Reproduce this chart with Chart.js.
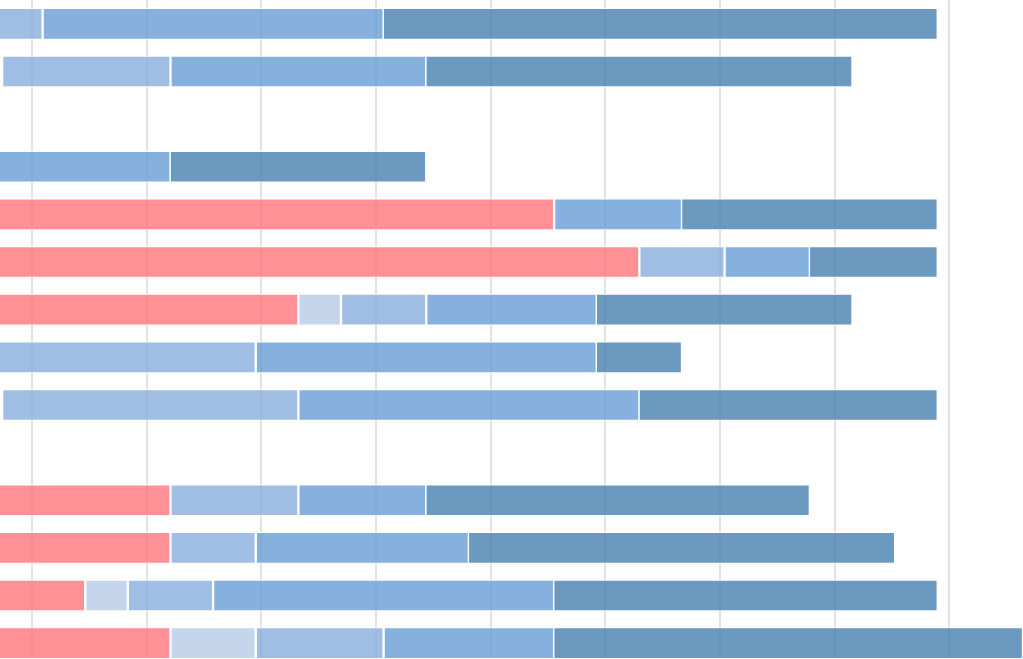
<!DOCTYPE html>
<html>
<head>
<meta charset="utf-8">
<script src="https://cdn.jsdelivr.net/npm/chart.js@4/dist/chart.umd.min.js"></script>
<style>
  html, body { margin: 0; padding: 0; background: #ffffff; overflow: hidden; }
  #wrap { width: 1023px; height: 659px; overflow: hidden; position: relative; }
  canvas { display: block; }
</style>
</head>
<body>
<div id="wrap"><canvas id="c" width="1023" height="667"></canvas></div>
<script>
// Row categories (top to bottom)
const categories = ["R1","R2","R3","R4","R5","R6","R7","R8","R9","R10","R11","R12","R13","R14"];

// Floating segments [start, end] per series (null = no segment)
const redSeg = [null, null, null, null, [-1,13], [-1,15], [-1,7], null, null, null, [-1,4], [-1,4], [-1,2], [-1,4]];
const lightSeg = [null, null, null, null, null, null, [7,8], null, null, null, null, null, [2,3], [4,6]];
const lightMidSeg = [[-1,1], [0.05,4], null, null, null, [15,17], [8,10], [-1,6], [0.05,7], null, [4,7], [4,6], [3,5], [6,9]];
const midSeg = [[1,9], [4,10], null, [-1,4], [13,16], [17,19], [10,14], [6,14], [7,15], null, [7,10], [6,11], [5,13], [9,13]];
const darkSeg = [[9,22], [10,20], null, [4,10], [16,22], [19,22], [14,20], [14,16], [15,22], null, [10,19], [11,21], [13,22], [13,24]];

// Vertical grid line positions
const gridTicks = [0.75, 3.44, 6.13, 8.82, 11.51, 14.2, 16.89, 19.59, 22.27];

const border = {top:1, bottom:1, left:1.5, right:1.5};
function ds(label, data, color, bw) {
  return {
    label, data,
    backgroundColor: color,
    borderColor: '#ffffff',
    borderWidth: bw || border,
    borderSkipped: false,
    grouped: false,
    barThickness: 31
  };
}

new Chart(document.getElementById('c'), {
  type: 'bar',
  data: {
    labels: categories,
    datasets: [
      ds('red', redSeg, 'rgba(255,118,124,0.8)'),
      ds('light', lightSeg, 'rgba(182,202,231,0.8)'),
      ds('lightmid', lightMidSeg, 'rgba(136,172,220,0.8)'),
      ds('mid', midSeg, 'rgba(104,157,215,0.8)'),
      ds('dark', darkSeg, 'rgba(71,127,176,0.8)', {top:1, bottom:1, left:0.5, right:1.5})
    ]
  },
  options: {
    indexAxis: 'y',
    responsive: false,
    animation: false,
    layout: { padding: 0 },
    plugins: { legend: { display: false }, tooltip: { enabled: false } },
    scales: {
      x: {
        min: 0, max: 24,
        afterBuildTicks: (scale) => { scale.ticks = gridTicks.map(v => ({ value: v })); },
        ticks: { display: false },
        grid: { color: '#e2e2e2', lineWidth: 2, drawTicks: false },
        border: { display: false }
      },
      y: {
        display: false,
        offset: true
      }
    }
  }
});
</script>
</body>
</html>
